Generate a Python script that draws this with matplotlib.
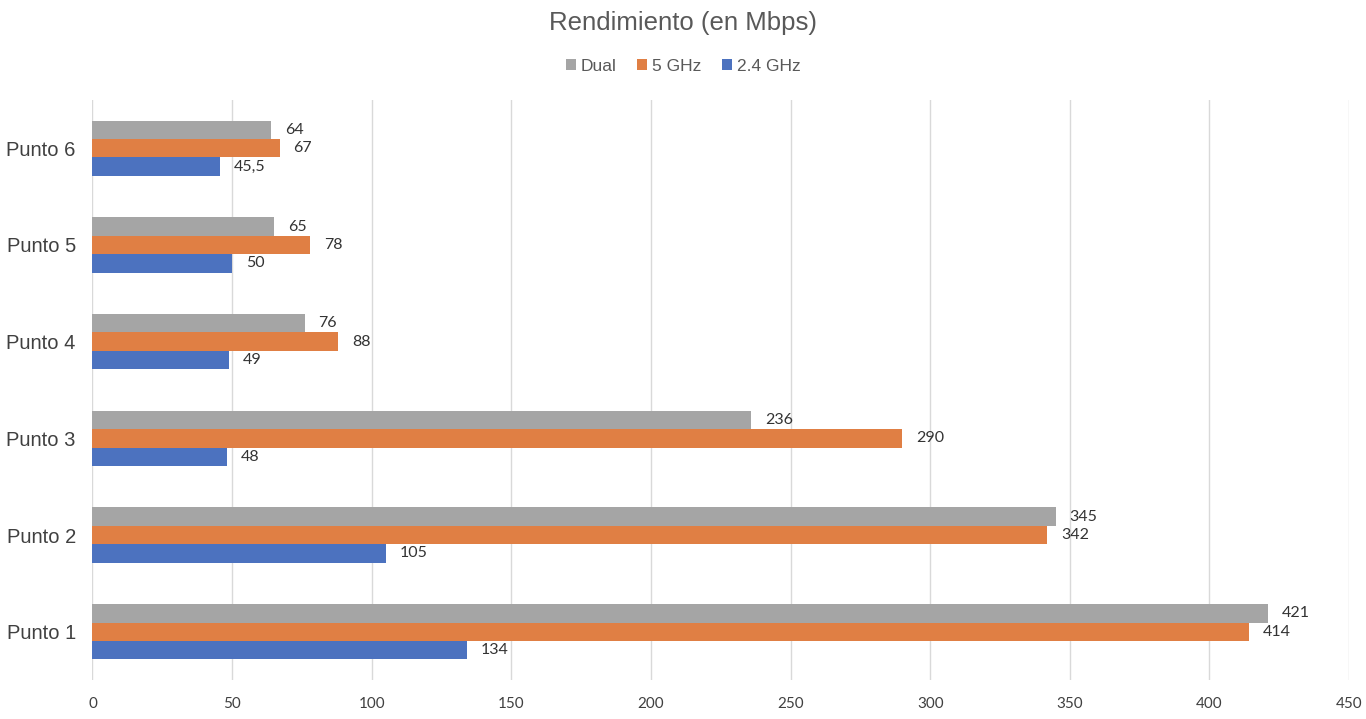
import numpy as np
import matplotlib
matplotlib.use("Agg")
from matplotlib import pyplot as plt

puntos = ["Punto 1", "Punto 2", "Punto 3", "Punto 4", "Punto 5", "Punto 6"]
dual = [421, 345, 236, 76, 65, 64]
ghz5 = [414, 342, 290, 88, 78, 67]
ghz24 = [134, 105, 48, 49, 50, 45.5]
ghz24_labels = ["134", "105", "48", "49", "50", "45,5"]

c_dual = "#A5A5A5"
c_5 = "#E07F44"
c_24 = "#4C72BF"

fig = plt.figure(figsize=(13.66, 7.19), dpi=100)
ax = fig.add_axes([0.0677, 0.0542, 0.9199, 0.8068])

y = np.arange(len(puntos))
h = 0.19
b_dual = ax.barh(y + h, dual, height=h, color=c_dual, label="Dual", zorder=3)
b_5 = ax.barh(y, ghz5, height=h, color=c_5, label="5 GHz", zorder=3)
b_24 = ax.barh(y - h, ghz24, height=h, color=c_24, label="2.4 GHz", zorder=3)

lab_font = dict(fontsize=11.5, color="#333333", family=["Lato", "DejaVu Sans"])
for bars, labels in [(b_dual, [str(v) for v in dual]),
                     (b_5, [str(v) for v in ghz5]),
                     (b_24, ghz24_labels)]:
    ax.bar_label(bars, labels=labels, padding=10, **lab_font)

ax.set_xlim(0, 450)
ax.set_ylim(-0.5, 5.5)
ax.set_xticks(np.arange(0, 451, 50))
ax.set_yticks(y)
ax.set_yticklabels(puntos, fontsize=14.5, color="#404040",
                   family=["Liberation Sans", "DejaVu Sans"])
for t in ax.get_xticklabels():
    t.set_fontsize(11)
    t.set_color("#404040")
    t.set_family(["Lato", "DejaVu Sans"])
ax.tick_params(axis="both", length=0)
ax.tick_params(axis="x", pad=12)
ax.tick_params(axis="y", pad=12)
ax.grid(axis="x", color="#D9D9D9", linewidth=1, zorder=0)
for s in ax.spines.values():
    s.set_visible(False)

fig.suptitle("Rendimiento (en Mbps)", y=0.985, fontsize=18.5, color="#595959",
             family=["Liberation Sans", "DejaVu Sans"])
fig.legend(handles=[b_dual, b_5, b_24], loc="center", bbox_to_anchor=(0.5, 0.908),
           ncol=3, frameon=False, handlelength=0.6, handleheight=0.6,
           handletextpad=0.25, columnspacing=1.2,
           prop={"family": ["Liberation Sans", "DejaVu Sans"], "size": 12.5},
           labelcolor="#595959")

fig.savefig("out.png", dpi=100)
